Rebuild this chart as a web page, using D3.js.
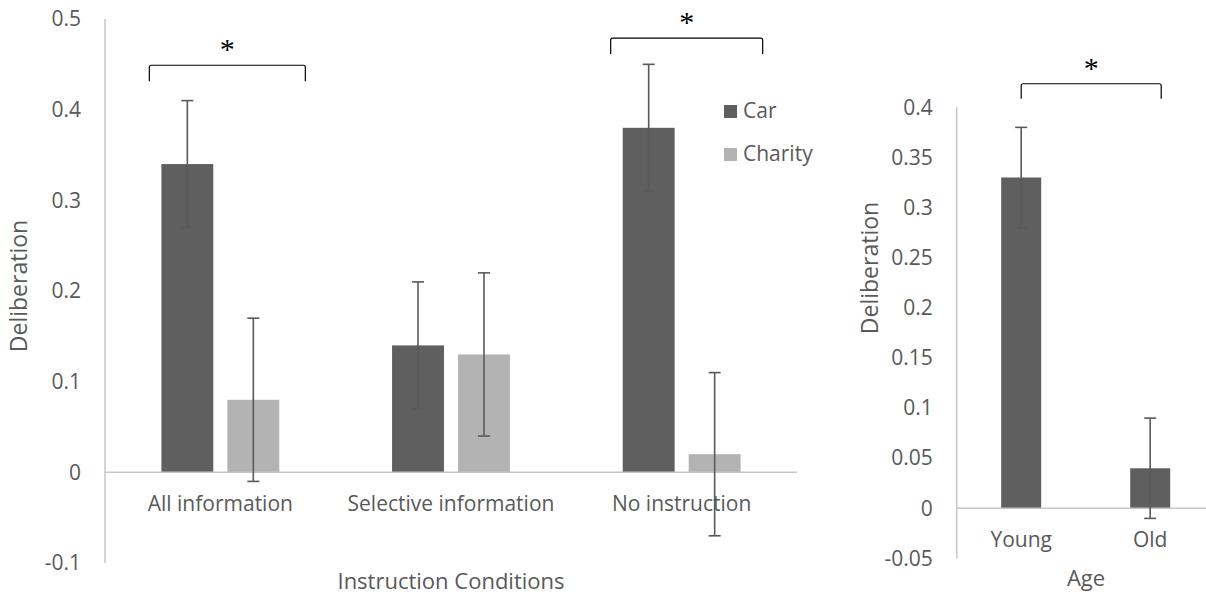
<!DOCTYPE html>
<html>
<head>
<meta charset="utf-8">
<script src="https://cdn.jsdelivr.net/npm/d3@7"></script>
<style>
  body { margin: 0; background: #fff; }
  svg { display: block; font-family: "Open Sans", sans-serif; }
  .tick text { fill: #595959; font-size: 21px; font-family: "Open Sans", sans-serif; }
</style>
</head>
<body>
<svg id="canvas" width="1206" height="596"></svg>
<script>
'use strict';

/* left panel: instruction conditions */
const conditions = ['All information', 'Selective information', 'No instruction'];
const seriesNames = ['Car', 'Charity'];
const carMeans = [0.34, 0.14, 0.38];
const carErrors = [0.07, 0.07, 0.07];
const charityMeans = [0.08, 0.13, 0.02];
const charityErrors = [0.09, 0.09, 0.09];
const leftTicks = [-0.1, 0, 0.1, 0.2, 0.3, 0.4, 0.5];
const leftSignificant = ['All information', 'No instruction'];

/* right panel: age */
const ageGroups = ['Young', 'Old'];
const ageMeans = [0.33, 0.04];
const ageErrors = [0.05, 0.05];
const rightTicks = [-0.05, 0, 0.05, 0.1, 0.15, 0.2, 0.25, 0.3, 0.35, 0.4];

const colors = { Car: '#5f5f5f', Charity: '#b3b3b3' };
const textColor = '#595959';
const axisColor = '#c6c6c6';
const errColor = '#5a5a5a';

const svg = d3.select('#canvas');

/* draws one error bar (vertical line + caps) */
function errorBar(g, cx, y, lo, hi){
  g.append('line')
    .attr('x1', cx).attr('x2', cx)
    .attr('y1', y(lo)).attr('y2', y(hi))
    .style('stroke', errColor).style('stroke-width', 1.6);
  [lo, hi].forEach(function(v){
    g.append('line')
      .attr('x1', cx - 6).attr('x2', cx + 6)
      .attr('y1', y(v)).attr('y2', y(v))
      .style('stroke', errColor).style('stroke-width', 1.6);
  });
}

/* significance bracket with a star on top */
function bracket(g, x1, x2, yTop, drop){
  g.append('path')
    .attr('d', 'M' + x1 + ',' + (yTop + drop) + 'V' + (yTop + 2) +
      'Q' + x1 + ',' + yTop + ' ' + (x1 + 2) + ',' + yTop +
      'H' + (x2 - 2) + 'Q' + x2 + ',' + yTop + ' ' + x2 + ',' + (yTop + 2) +
      'V' + (yTop + drop))
    .style('fill', 'none').style('stroke', '#000').style('stroke-width', 1.2);
  g.append('text')
    .attr('x', (x1 + x2) / 2).attr('y', yTop - 6)
    .attr('text-anchor', 'middle')
    .style('font-family', '"Liberation Serif", serif')
    .style('font-size', '30px')
    .style('fill', '#000')
    .text('*');
}

function styleAxis(g){
  g.select('.domain').remove();
  g.selectAll('.tick line').remove();
}

/* plain hyphen for negatives, like the original */
const fmt = function(d){ return String(d); };

/* ---------------- left chart ---------------- */
const yL = d3.scaleLinear().domain([-0.1, 0.5]).range([563, 19]);
const xL = d3.scaleBand().domain(conditions).range([105, 797]);
const bw = xL.bandwidth() * 0.225;
const gap = xL.bandwidth() * 0.061;

const left = svg.append('g').attr('id', 'left');

left.append('g')
  .attr('transform', 'translate(105,0)')
  .call(d3.axisLeft(yL).tickValues(leftTicks).tickSize(0).tickPadding(24)
    .tickFormat(fmt))
  .call(styleAxis);

left.append('line')
  .attr('x1', 105).attr('x2', 105).attr('y1', yL(0.5)).attr('y2', yL(-0.1))
  .style('stroke', axisColor).style('stroke-width', 1.5);

const leftData = conditions.map(function(c, i){
  return [
    { cat: c, s: 'Car', v: carMeans[i], e: carErrors[i], off: -gap / 2 - bw },
    { cat: c, s: 'Charity', v: charityMeans[i], e: charityErrors[i], off: gap / 2 }
  ];
}).flat();

left.append('g').selectAll('rect')
  .data(leftData)
  .enter().append('rect')
  .attr('x', function(d){ return xL(d.cat) + xL.bandwidth() / 2 + d.off; })
  .attr('y', function(d){ return yL(d.v); })
  .attr('width', bw)
  .attr('height', function(d){ return yL(0) - yL(d.v); })
  .style('fill', function(d){ return colors[d.s]; });

left.append('line')
  .attr('x1', 105).attr('x2', 797).attr('y1', yL(0)).attr('y2', yL(0))
  .style('stroke', axisColor).style('stroke-width', 1.5);

const errL = left.append('g');
leftData.forEach(function(d){
  errorBar(errL, xL(d.cat) + xL.bandwidth() / 2 + d.off + bw / 2, yL, d.v - d.e, d.v + d.e);
});

left.selectAll('.catlabel')
  .data(conditions)
  .enter().append('text')
  .attr('class', 'catlabel')
  .attr('x', function(d){ return xL(d) + xL.bandwidth() / 2; })
  .attr('y', yL(0) + 39)
  .attr('text-anchor', 'middle')
  .style('font-size', '21px').style('fill', textColor)
  .text(function(d){ return d; });

left.append('text')
  .attr('x', 451).attr('y', 589)
  .attr('text-anchor', 'middle')
  .style('font-size', '22px').style('fill', textColor)
  .text('Instruction Conditions');

left.append('text')
  .attr('transform', 'translate(27,286) rotate(-90)')
  .attr('text-anchor', 'middle')
  .style('font-size', '23px').style('fill', textColor)
  .text('Deliberation');

/* legend */
const legend = left.append('g').attr('transform', 'translate(724,105)');
seriesNames.forEach(function(s, i){
  legend.append('rect')
    .attr('x', 0).attr('y', i * 43)
    .attr('width', 13).attr('height', 13)
    .style('fill', colors[s]);
  legend.append('text')
    .attr('x', 19).attr('y', i * 43 + 13)
    .style('font-size', '21px').style('fill', textColor)
    .text(s);
});

/* significance brackets */
const brL = left.append('g');
const bracketTops = [0.449, 0.479];
leftSignificant.forEach(function(c, i){
  const cx = xL(c) + xL.bandwidth() / 2;
  bracket(brL, cx - 71, cx + 85 - i * 4, yL(bracketTops[i]), 16);
});

/* ---------------- right chart ---------------- */
const yR = d3.scaleLinear().domain([-0.05, 0.4]).range([558.5, 107.3]);
const xR = d3.scaleBand().domain(ageGroups).range([956.7, 1214.7]);
const bwR = xR.bandwidth() * 0.31;

const right = svg.append('g').attr('id', 'right');

right.append('g')
  .attr('transform', 'translate(956.7,0)')
  .call(d3.axisLeft(yR).tickValues(rightTicks).tickSize(0).tickPadding(24)
    .tickFormat(fmt))
  .call(styleAxis);

right.append('line')
  .attr('x1', 956.7).attr('x2', 956.7).attr('y1', yR(0.4)).attr('y2', yR(-0.05))
  .style('stroke', axisColor).style('stroke-width', 1.5);

right.append('g').selectAll('rect')
  .data(ageGroups)
  .enter().append('rect')
  .attr('x', function(d){ return xR(d) + (xR.bandwidth() - bwR) / 2; })
  .attr('y', function(d, i){ return yR(ageMeans[i]); })
  .attr('width', bwR)
  .attr('height', function(d, i){ return yR(0) - yR(ageMeans[i]); })
  .style('fill', colors.Car);

right.append('line')
  .attr('x1', 956.7).attr('x2', 1206).attr('y1', yR(0)).attr('y2', yR(0))
  .style('stroke', axisColor).style('stroke-width', 1.5);

const errR = right.append('g');
ageGroups.forEach(function(a, i){
  errorBar(errR, xR(a) + xR.bandwidth() / 2, yR, ageMeans[i] - ageErrors[i], ageMeans[i] + ageErrors[i]);
});

right.selectAll('.catlabel')
  .data(ageGroups)
  .enter().append('text')
  .attr('class', 'catlabel')
  .attr('x', function(d){ return xR(d) + xR.bandwidth() / 2; })
  .attr('y', yR(0) + 39)
  .attr('text-anchor', 'middle')
  .style('font-size', '21px').style('fill', textColor)
  .text(function(d){ return d; });

right.append('text')
  .attr('x', 1086).attr('y', 586)
  .attr('text-anchor', 'middle')
  .style('font-size', '22px').style('fill', textColor)
  .text('Age');

right.append('text')
  .attr('transform', 'translate(878,268) rotate(-90)')
  .attr('text-anchor', 'middle')
  .style('font-size', '23px').style('fill', textColor)
  .text('Deliberation');

const brR = right.append('g');
bracket(brR, xR('Young') + xR.bandwidth() / 2, xR('Old') + xR.bandwidth() / 2 + 11, yR(0.4235), 15);
</script>
</body>
</html>
